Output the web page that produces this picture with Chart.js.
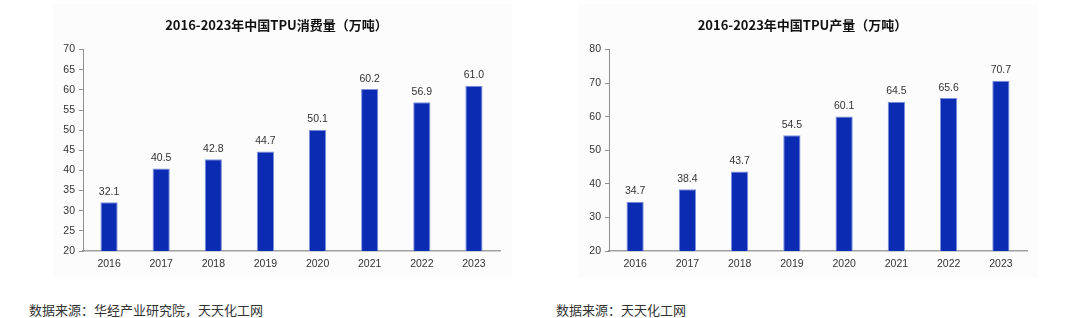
<!DOCTYPE html>
<html>
<head>
<meta charset="utf-8">
<script src="https://cdn.jsdelivr.net/npm/chart.js@4"></script>
<style>
  body { margin: 0; width: 1080px; height: 318px; background: #fff; position: relative; overflow: hidden; }
  .panel { position: absolute; background: #fcfcfc; }
  .src { position: absolute; font-family: "Noto Sans CJK SC", sans-serif; font-size: 13px; color: #333; top: 300px; }
</style>
</head>
<body>
<div class="panel" style="left:53px; top:4px; width:459px; height:274px;"><canvas id="leftChart" width="459" height="274"></canvas></div>
<div class="panel" style="left:578px; top:4px; width:460px; height:274px;"><canvas id="rightChart" width="460" height="274"></canvas></div>
<div class="src" style="left:29px;">数据来源：华经产业研究院，天天化工网</div>
<div class="src" style="left:556px;">数据来源：天天化工网</div>
<script>
const years = ['2016', '2017', '2018', '2019', '2020', '2021', '2022', '2023'];
const consumption = [32.1, 40.5, 42.8, 44.7, 50.1, 60.2, 56.9, 61.0];
const production = [34.7, 38.4, 43.7, 54.5, 60.1, 64.5, 65.6, 70.7];
const consumptionTicks = [20, 25, 30, 35, 40, 45, 50, 55, 60, 65, 70];
const productionTicks = [20, 30, 40, 50, 60, 70, 80];

const numFont = "'Liberation Sans Narrow', 'Liberation Sans', Arial, sans-serif";

// etiquetas de valor encima de cada barra
const valueLabels = {
    id: 'valueLabels',
    afterDatasetsDraw(chart) {
        const ctx = chart.ctx;
        const meta = chart.getDatasetMeta(0);
        ctx.save();
        ctx.font = '10.5px ' + numFont;
        ctx.fillStyle = '#333';
        ctx.textAlign = 'center';
        ctx.textBaseline = 'bottom';
        meta.data.forEach((bar, i) => {
            const v = chart.data.datasets[0].data[i];
            ctx.fillText(v.toFixed(1), bar.x, bar.y - 5);
        });
        ctx.restore();
    }
};

function makeChart(id, title, values, ticks, leftW, rightPad) {
    const ctx = document.getElementById(id).getContext('2d');
    return new Chart(ctx, {
        type: 'bar',
        data: {
            labels: years,
            datasets: [{
                data: values,
                backgroundColor: '#0c2bb3',
                borderColor: '#7d90db',
                borderWidth: 1,
                borderSkipped: 'bottom',
                categoryPercentage: 1,
                barPercentage: 0.33
            }]
        },
        options: {
            responsive: false,
            animation: false,
            layout: { padding: { right: rightPad, top: 0 } },
            scales: {
                x: {
                    grid: { display: false, drawTicks: false },
                    border: { color: '#a0a0a0', width: 1.5 },
                    ticks: { color: '#333', font: { size: 10.5, family: numFont }, padding: 7 },
                    afterFit(scale) { scale.height = 27; }
                },
                y: {
                    min: ticks[0],
                    max: ticks[ticks.length - 1],
                    afterBuildTicks(scale) { scale.ticks = ticks.map(v => ({ value: v })); },
                    grid: { display: true, drawOnChartArea: false, tickLength: 4, color: '#909090' },
                    border: { color: '#909090', width: 1 },
                    ticks: { color: '#333', font: { size: 10.5, family: numFont }, padding: 4 },
                    afterFit(scale) { scale.width = leftW; }
                }
            },
            plugins: {
                legend: { display: false },
                tooltip: { enabled: false },
                title: {
                    display: true,
                    text: title,
                    color: '#111',
                    font: { size: 13, weight: 'bold', family: "'Liberation Sans Narrow', 'Noto Sans CJK SC', sans-serif" },
                    padding: { top: 13, bottom: 17 }
                }
            }
        },
        plugins: [valueLabels]
    });
}

makeChart('leftChart', '2016-2023年中国TPU消费量（万吨）', consumption, consumptionTicks, 30, 12);
makeChart('rightChart', '2016-2023年中国TPU产量（万吨）', production, productionTicks, 31, 11);
</script>
</body>
</html>
